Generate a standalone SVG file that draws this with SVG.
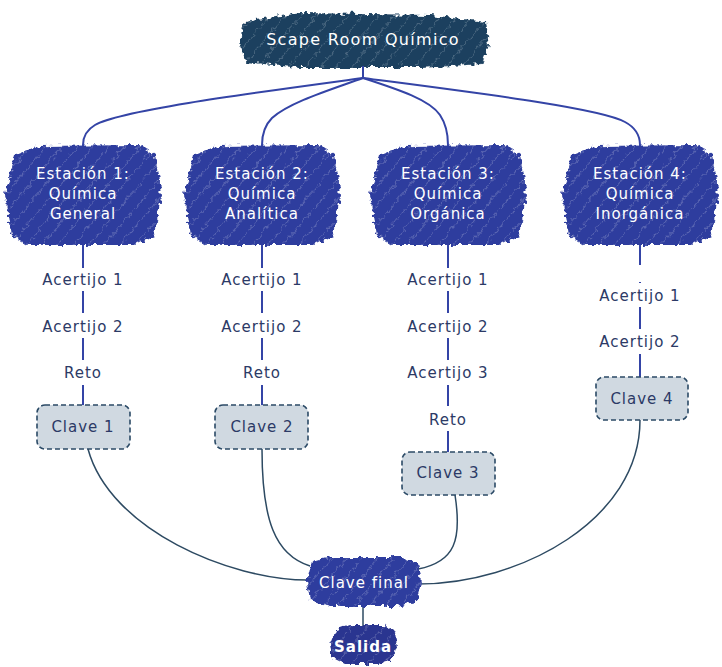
<svg xmlns="http://www.w3.org/2000/svg" width="722" height="667" viewBox="0 0 722 667">
<style>
.t{font-family:"DejaVu Sans","Liberation Sans",sans-serif;font-size:15px;fill:#2c3a66;text-anchor:middle;letter-spacing:1px}
.w{font-family:"DejaVu Sans","Liberation Sans",sans-serif;font-size:15px;fill:#ffffff;text-anchor:middle;letter-spacing:1px}
.blue{fill:#2f3e9e}
.navy{fill:#1a3f5e}
.hatch{fill:url(#hatch)}
.clave{fill:#d0d9e1;stroke:#2b4a66;stroke-width:1.6;stroke-dasharray:5 3}
.vc{stroke:#3444a6;stroke-width:2;fill:none}
.cc{stroke:#2d4a62;stroke-width:1.5;fill:none}
</style>
<defs>
<filter id="rough" x="-10%" y="-20%" width="120%" height="140%">
<feTurbulence type="fractalNoise" baseFrequency="0.2" numOctaves="2" seed="3" result="n"/>
<feDisplacementMap in="SourceGraphic" in2="n" scale="8" xChannelSelector="R" yChannelSelector="G"/>
</filter>
<pattern id="hatch" patternUnits="userSpaceOnUse" width="12" height="12" patternTransform="rotate(40)">
<line x1="0" y1="0" x2="0" y2="12" stroke="#ffffff" stroke-opacity="0.4" stroke-width="1"/>
</pattern>
<path id="st" d="M-68,-40 L-45,-49 L58,-50 L72,-40 L78,0 L72,40 L52,50 L-55,50 L-72,40 L-78,0 Z"/>
</defs>

<g id="connectors">
<path class="vc" d="M363,66 V78"/>
<path class="vc" d="M363,78 C260,92 120,110 95,125 Q83,132 83,145 V152"/>
<path class="vc" d="M363,78 C330,90 290,102 272,118 Q262,128 262,145 V152"/>
<path class="vc" d="M363,78 C400,90 430,100 440,115 Q448,127 448,145 V152"/>
<path class="vc" d="M363,78 C470,92 600,108 625,122 Q640,130 640,145 V152"/>
<path class="vc" d="M83,244 V268 M83,291 V313 M83,338 V360 M83,385 V412"/>
<path class="vc" d="M262,244 V268 M262,291 V313 M262,338 V360 M262,385 V412"/>
<path class="vc" d="M448,244 V268 M448,291 V313 M448,338 V360 M448,385 V406 M448,431 V460"/>
<path class="vc" d="M640,244 V265 M640,282 V283 M640,307 V329 M640,354 V385"/>
<path class="cc" d="M88,449 C110,530 230,580 308,580"/>
<path class="cc" d="M262,449 C262,520 275,555 310,566"/>
<path class="cc" d="M455,495 C462,540 455,562 418,569"/>
<path class="cc" d="M640,420 C640,520 520,584 418,584"/>
<path class="cc" d="M363,604 V627"/>
</g>

<g id="title">
<g filter="url(#rough)">
<path class="navy" d="M244,22 L300,13 L430,15 L486,22 L489,45 L482,64 L420,68 L300,68 L246,62 L240,42 Z"/>
<path class="hatch" d="M244,22 L300,13 L430,15 L486,22 L489,45 L482,64 L420,68 L300,68 L246,62 L240,42 Z"/>
</g>
<text class="w" x="363" y="45" style="font-size:16px;letter-spacing:1.3px">Scape Room Químico</text>
</g>

<g id="station1">
<g filter="url(#rough)" transform="translate(83,195)"><use href="#st" class="blue"/><use href="#st" class="hatch"/></g>
<text class="w" x="83" y="179">Estación 1:</text>
<text class="w" x="83" y="199">Química</text>
<text class="w" x="83" y="219">General</text>
</g>
<g id="station2">
<g filter="url(#rough)" transform="translate(262,195)"><use href="#st" class="blue"/><use href="#st" class="hatch"/></g>
<text class="w" x="262" y="179">Estación 2:</text>
<text class="w" x="262" y="199">Química</text>
<text class="w" x="262" y="219">Analítica</text>
</g>
<g id="station3">
<g filter="url(#rough)" transform="translate(448,195)"><use href="#st" class="blue"/><use href="#st" class="hatch"/></g>
<text class="w" x="448" y="179">Estación 3:</text>
<text class="w" x="448" y="199">Química</text>
<text class="w" x="448" y="219">Orgánica</text>
</g>
<g id="station4">
<g filter="url(#rough)" transform="translate(640,195)"><use href="#st" class="blue"/><use href="#st" class="hatch"/></g>
<text class="w" x="640" y="179">Estación 4:</text>
<text class="w" x="640" y="199">Química</text>
<text class="w" x="640" y="219">Inorgánica</text>
</g>

<g id="s1-items">
<text class="t" x="83" y="285">Acertijo 1</text>
<text class="t" x="83" y="332">Acertijo  2</text>
<text class="t" x="83" y="378">Reto</text>
</g>
<g id="clave1"><rect class="clave" x="37" y="405" width="93" height="44" rx="8"/><text class="t" x="83" y="432">Clave 1</text></g>

<g id="s2-items">
<text class="t" x="262" y="285">Acertijo 1</text>
<text class="t" x="262" y="332">Acertijo  2</text>
<text class="t" x="262" y="378">Reto</text>
</g>
<g id="clave2"><rect class="clave" x="215" y="405" width="93" height="44" rx="8"/><text class="t" x="262" y="432">Clave 2</text></g>

<g id="s3-items">
<text class="t" x="448" y="285">Acertijo 1</text>
<text class="t" x="448" y="332">Acertijo  2</text>
<text class="t" x="448" y="378">Acertijo 3</text>
<text class="t" x="448" y="425">Reto</text>
</g>
<g id="clave3"><rect class="clave" x="402" y="452" width="93" height="43" rx="8"/><text class="t" x="448" y="478">Clave 3</text></g>

<g id="s4-items">
<text class="t" x="640" y="301">Acertijo 1</text>
<text class="t" x="640" y="347">Acertijo  2</text>
</g>
<g id="clave4"><rect class="clave" x="596" y="377" width="92" height="43" rx="8"/><text class="t" x="642" y="404">Clave 4</text></g>

<g id="clavefinal">
<g filter="url(#rough)">
<path class="blue" d="M312,562 L330,557 L400,557 L418,564 L421,582 L416,602 L395,606 L330,606 L310,600 L307,582 Z"/>
<path class="hatch" d="M312,562 L330,557 L400,557 L418,564 L421,582 L416,602 L395,606 L330,606 L310,600 L307,582 Z"/>
</g>
<text class="w" x="364" y="588">Clave final</text>
</g>
<g id="salida">
<g filter="url(#rough)">
<path class="blue" d="M336,630 L350,625 L385,625 L395,632 L397,647 L392,660 L378,664 L345,664 L333,658 L330,645 Z" style="fill:#2a3590"/>
<path class="hatch" d="M336,630 L350,625 L385,625 L395,632 L397,647 L392,660 L378,664 L345,664 L333,658 L330,645 Z"/>
</g>
<text class="w" x="363" y="652" style="font-weight:bold">Salida</text>
</g>
</svg>
